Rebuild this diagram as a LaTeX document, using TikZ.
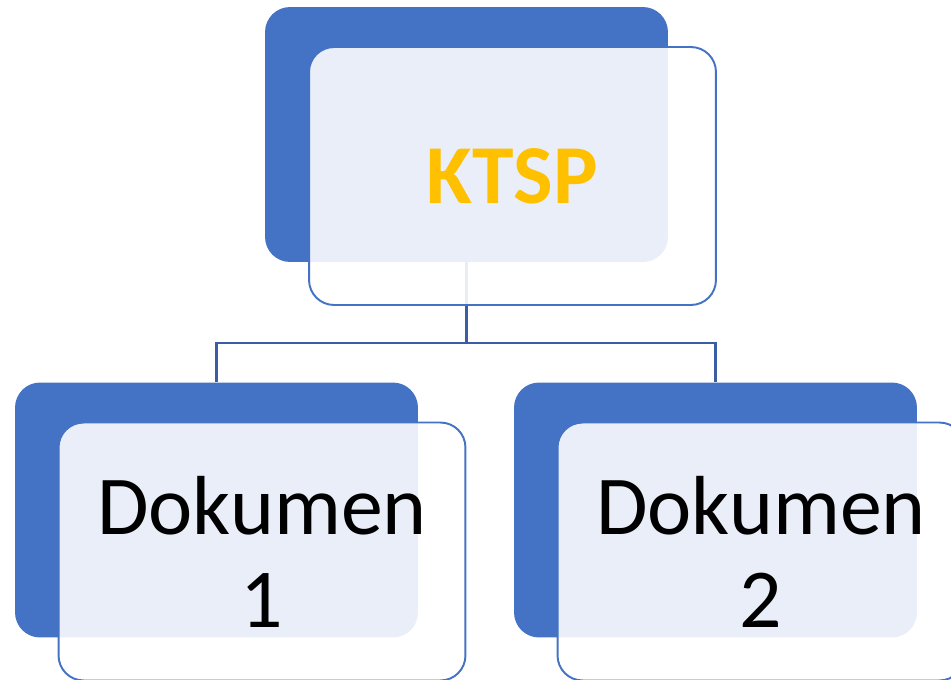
\documentclass[tikz,border=0pt]{standalone}
\usepackage{fontspec}
\setmainfont{Carlito}
\usepackage{xcolor}
\usepackage{tikz}
\usetikzlibrary{positioning}
\definecolor{accent}{HTML}{4472C4}
\definecolor{linkblue}{HTML}{3A5DA4}
\definecolor{gold}{HTML}{FFC000}

\begin{document}
\begin{tikzpicture}[x=0.02cm,y=-0.02cm,
  back/.style={fill=accent,rounded corners=0.5cm,minimum width=8.06cm,minimum height=5.1cm,inner sep=0pt},
  front/.style={draw=accent,line width=1.1pt,fill=white,fill opacity=0.885,text opacity=1,rounded corners=0.5cm,
    minimum width=8.14cm,minimum height=5.16cm,inner sep=0pt,align=center,font=\fontsize{47.7}{53}\selectfont},
  link/.style={draw=linkblue,line width=1.2pt}]
  \useasboundingbox (0,0) rectangle (951,680);
  % back plates
  \node[back] (topback) at (466.5,134.5) {};
  \node[back] (leftback) at (216.5,510) {};
  \node[back] (rightback) at (715.5,510) {};
  % tree lines
  \coordinate (fork) at (466.5,343);
  \draw[link] (topback.south) -- (fork) -| (leftback.north);
  \draw[link] (fork) -| (rightback.north);
  % front cards
  \node[front] (ktsp) at ([shift={(46,41.5)}]topback.center) {\textcolor{gold}{\textbf{KTSP}}};
  \node[front] (doc1) at ([shift={(45.5,41.5)}]leftback.center) {Dokumen\\1};
  \node[front] (doc2) at ([shift={(45.5,41.5)}]rightback.center) {Dokumen\\2};
\end{tikzpicture}
\end{document}
